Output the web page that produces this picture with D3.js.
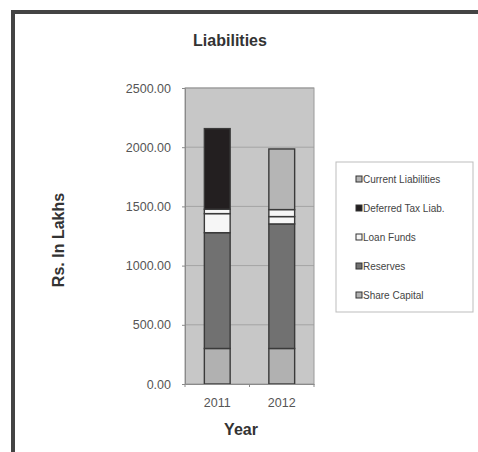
<!DOCTYPE html>
<html>
<head>
<meta charset="utf-8">
<script src="https://cdn.jsdelivr.net/npm/d3@7/dist/d3.min.js"></script>
<style>
  html, body { margin: 0; padding: 0; background: #fff; }
  svg { display: block; font-family: "Liberation Sans", Arial, sans-serif; }
</style>
</head>
<body>
<svg id="chart" width="478" height="452"></svg>
<script>
// Liabilities by year, Rs. in lakhs (stacked bottom to top)
const years = ["2011", "2012"];
const shareCapital = [300, 300];
const reserves = [978, 1052];
const loanFunds = [161, 62];
const otherLoans = [37, 59];
const deferredTax = [681, 0];
const currentLiabilities = [0, 512];

const yTicks = [0, 500, 1000, 1500, 2000, 2500];

const seriesKeys = ["Share Capital", "Reserves", "Loan Funds", "Other Loans", "Deferred Tax Liab.", "Current Liabilities"];
const seriesValues = [shareCapital, reserves, loanFunds, otherLoans, deferredTax, currentLiabilities];
const legendKeys = ["Current Liabilities", "Deferred Tax Liab.", "Loan Funds", "Reserves", "Share Capital"];

const fills = {
  "Share Capital": "#b1b1b1",
  "Reserves": "#717171",
  "Loan Funds": "#f6f6f6",
  "Other Loans": "#f6f6f6",
  "Deferred Tax Liab.": "#231f20",
  "Current Liabilities": "#b5b5b5"
};

const table = years.map((y, i) => {
  const row = { year: y };
  seriesKeys.forEach((k, j) => { row[k] = seriesValues[j][i]; });
  return row;
});

const svg = d3.select("#chart");

// outer frame
svg.append("rect")
  .attr("x", 13).attr("y", 12)
  .attr("width", 600).attr("height", 600)
  .attr("fill", "#fff")
  .attr("stroke", "#444").attr("stroke-width", 4);

const plot = { left: 185, right: 314, top: 88, bottom: 384 };

const x = d3.scaleBand().domain(years).range([plot.left, plot.right]).paddingInner(0.6).paddingOuter(0.3);
const xBand = d3.scaleBand().domain(years).range([plot.left, plot.right]);
const y = d3.scaleLinear().domain([0, 2500]).range([plot.bottom, plot.top]);

// plot background
svg.append("rect")
  .attr("x", plot.left).attr("y", plot.top)
  .attr("width", plot.right - plot.left).attr("height", plot.bottom - plot.top)
  .attr("fill", "#c7c7c7");

// gridlines
svg.append("g").selectAll("line")
  .data(yTicks.filter(t => t > 0))
  .join("line")
  .attr("x1", plot.left).attr("x2", plot.right)
  .attr("y1", d => y(d)).attr("y2", d => y(d))
  .attr("stroke", "#a4a4a4").attr("stroke-width", 1);

// plot border
svg.append("rect")
  .attr("x", plot.left).attr("y", plot.top)
  .attr("width", plot.right - plot.left).attr("height", plot.bottom - plot.top)
  .attr("fill", "none").attr("stroke", "#9a9a9a").attr("stroke-width", 1);

// stacked bars
const stacked = d3.stack().keys(seriesKeys)(table);
svg.append("g").selectAll("g")
  .data(stacked)
  .join("g")
  .attr("fill", d => fills[d.key])
  .selectAll("rect")
  .data(d => d.filter(s => s[1] - s[0] > 0))
  .join("rect")
  .attr("x", d => x(d.data.year))
  .attr("width", x.bandwidth())
  .attr("y", d => y(d[1]))
  .attr("height", d => y(d[0]) - y(d[1]))
  .attr("stroke", "#3a3a3a").attr("stroke-width", 1.4);

// y axis
const yAxis = svg.append("g")
  .attr("transform", `translate(${plot.left},0)`)
  .call(d3.axisLeft(y).tickValues(yTicks).tickFormat(d3.format(".2f")).tickSize(3).tickPadding(11));
yAxis.select(".domain").attr("stroke", "#8a8a8a");
yAxis.selectAll(".tick line").attr("stroke", "#8a8a8a");
yAxis.selectAll("text")
  .attr("font-size", 12.5).attr("fill", "#555")
  .attr("font-family", "Liberation Sans, Arial, sans-serif");

// x axis
const xAxis = svg.append("g")
  .attr("transform", `translate(0,${plot.bottom})`)
  .call(d3.axisBottom(xBand).tickSize(0).tickPadding(14));
xAxis.select(".domain").attr("stroke", "#8a8a8a");
xAxis.selectAll("text")
  .attr("font-size", 12.5).attr("fill", "#555")
  .attr("font-family", "Liberation Sans, Arial, sans-serif");
// category boundary ticks
svg.append("g").selectAll("line")
  .data(years.concat(["end"]))
  .join("line")
  .attr("x1", (d, i) => plot.left + i * xBand.step())
  .attr("x2", (d, i) => plot.left + i * xBand.step())
  .attr("y1", plot.bottom).attr("y2", plot.bottom + 3)
  .attr("stroke", "#8a8a8a");

// title
svg.append("text")
  .attr("x", 230).attr("y", 46)
  .attr("text-anchor", "middle")
  .attr("font-size", 16).attr("font-weight", "bold").attr("fill", "#333")
  .text("Liabilities");

// axis titles
svg.append("text")
  .attr("x", 241).attr("y", 435)
  .attr("text-anchor", "middle")
  .attr("font-size", 16).attr("font-weight", "bold").attr("fill", "#333")
  .text("Year");

svg.append("text")
  .attr("transform", "translate(64,240) rotate(-90)")
  .attr("text-anchor", "middle")
  .attr("font-size", 16).attr("font-weight", "bold").attr("fill", "#333")
  .text("Rs. In Lakhs");

// legend
const legend = svg.append("g");
legend.append("rect")
  .attr("x", 336).attr("y", 162)
  .attr("width", 137).attr("height", 150)
  .attr("fill", "#fff").attr("stroke", "#bdbdbd").attr("stroke-width", 1);

const ly = d3.scalePoint().domain(legendKeys).range([179, 295]);
const items = legend.selectAll("g.item")
  .data(legendKeys)
  .join("g").attr("class", "item")
  .attr("transform", d => `translate(0,${ly(d)})`);
items.append("rect")
  .attr("x", 356).attr("y", -3)
  .attr("width", 6).attr("height", 6)
  .attr("fill", d => fills[d])
  .attr("stroke", "#333").attr("stroke-width", 1);
items.append("text")
  .attr("x", 363).attr("y", 3.5)
  .attr("font-size", 10).attr("fill", "#444")
  .text(d => d);
</script>
</body>
</html>
